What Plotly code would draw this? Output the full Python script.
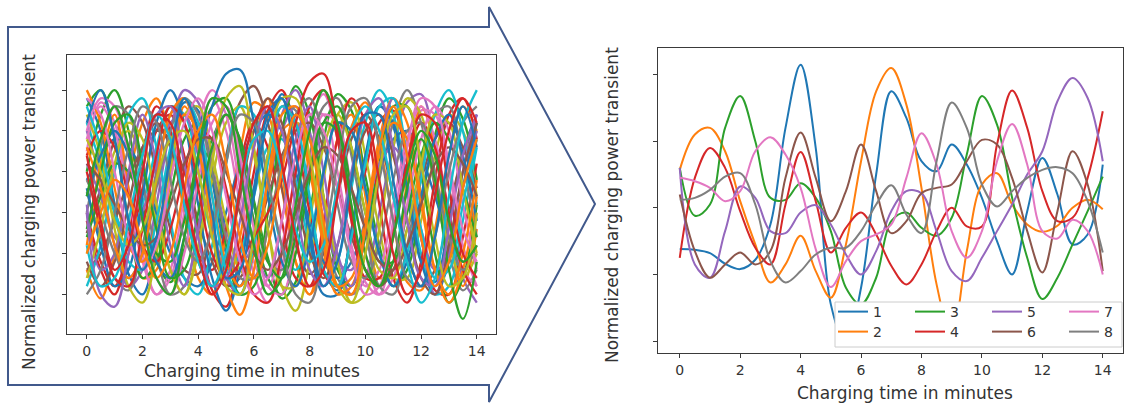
import plotly.graph_objects as go

# ---------------- data ----------------
T = [0, 0.5, 1, 1.5, 2, 2.5, 3, 3.5, 4, 4.5, 5, 5.5, 6, 6.5, 7, 7.5, 8, 8.5, 9, 9.5,
     10, 10.5, 11, 11.5, 12, 12.5, 13, 13.5, 14]

# right panel: 8 selected transients (normalized units)
S1 = [-0.62, -0.63, -0.68, -0.84, -0.92, -0.78, -0.25, 1.2, 2.15, 0.9, -1.45, -2.05, -1.2, 0.5, 1.75,
      1.35, 0.7, 0.55, 0.95, 0.65, 0.15, -0.5, -1.0, -0.05, 0.75, 0.2, -0.55, -0.4, 0.65]
S2 = [0.57, 1.1, 1.2, 0.85, 0.1, -0.55, -1.12, -0.85, -0.42, -0.95, -1.35, -0.55, 0.7, 1.75, 2.1,
      1.55, 0.3, -1.15, -1.95, -0.65, 0.35, 0.52, 0.05, -0.25, -0.36, -0.27, 0.0, 0.12, -0.02]
S3 = [0.6, -0.12, 0.05, 1.2, 1.68, 1.0, 0.15, 0.12, 0.37, 0.15, -0.35, -1.2, -1.45, -1.05, -0.2,
      -0.07, -0.3, -0.42, -0.15, 0.8, 1.68, 1.25, 0.15, -0.75, -1.37, -1.05, -0.55, -0.05, 0.47]
S4 = [-0.75, 0.45, 0.9, 0.6, -0.05, -0.6, -0.85, 0.05, 0.84, 0.1, -0.67, -0.3, -0.07, -0.4, -0.87,
      -1.15, -0.85, -0.35, 0.0, -0.28, -0.28, 0.95, 1.76, 1.2, 0.25, -0.2, -0.15, 0.45, 1.45]
S5 = [0.6, -0.85, -1.05, -0.35, 0.32, 0.15, -0.35, -0.38, -0.07, 0.04, -0.25, -0.7, -1.0, -0.65, -0.05,
      0.25, 0.22, -0.35, -0.95, -1.1, -0.75, -0.35, 0.05, 0.5, 0.85, 1.6, 1.95, 1.65, 0.7]
S6 = [0.2, -0.65, -1.05, -0.85, -0.67, -0.85, -0.65, 0.45, 1.13, 0.45, -0.2, 0.25, 0.95, 0.25, -0.38,
      -0.2, 0.22, 0.3, 0.35, 0.7, 1.02, 0.95, 0.45, -0.35, -0.97, -0.05, 0.85, 0.35, -0.95]
S7 = [0.45, 0.4, 0.3, 0.1, 0.25, 0.85, 1.06, 0.8, 0.3, -0.62, -1.19, -0.8, -0.5, -0.4, -0.25,
      0.45, 1.12, 0.65, -0.35, -0.75, -0.35, 0.7, 1.26, 0.65, -0.35, -0.46, -0.18, -0.35, -1.0]
S8 = [0.12, 0.15, 0.27, 0.47, 0.52, 0.05, -0.8, -1.12, -0.95, -0.7, -0.6, -0.6, -0.35, 0.05, 0.34,
      -0.1, -0.38, 0.7, 1.58, 1.2, 0.35, 0.02, 0.25, 0.45, 0.57, 0.61, 0.52, 0.1, -0.67]
SERIES_NAMES = ["1", "2", "3", "4", "5", "6", "7", "8"]

# left panel: all transients (normalized units x10)
L01 = [28, 20, 2, -15, -20, -8, 12, 27, 25, 8, -10, -18, -6, 14, 29, 22, 3, -14, -19, -5, 13, 26, 21, 4, -12, -17, -2, 15, 24]
L02 = [-14, -21, -10, 8, 22, 28, 18, 0, -16, -20, -5, 15, 27, 24, 6, -12, -20, -12, 6, 21, 27, 17, -2, -17, -19, -4, 14, 26, 20]
L03 = [10, 24, 30, 20, 2, -12, -17, -9, 6, 18, 24, 17, 3, -11, -21, -17, 0, 18, 29, 25, 9, -8, -18, -14, 2, 19, 28, 23, 8]
L04 = [0, -12, -18, -10, 6, 20, 24, 14, -4, -19, -23, -10, 10, 25, 30, 19, 0, -15, -18, -6, 10, 22, 25, 12, -6, -19, -20, -6, 12]
L05 = [20, 8, -8, -18, -14, 2, 20, 30, 27, 12, -4, -12, -8, 6, 20, 26, 18, 2, -12, -20, -16, 0, 16, 27, 29, 16, -2, -16, -22]
L06 = [-5, 6, 18, 26, 22, 10, -4, -14, -15, -2, 14, 27, 31, 22, 6, -8, -15, -10, 4, 18, 24, 18, 4, -10, -18, -14, 0, 14, 20]
L07 = [15, 27, 22, 6, -10, -20, -16, 0, 18, 28, 20, 2, -15, -22, -13, 5, 22, 29, 18, -2, -17, -20, -6, 12, 25, 24, 10, -8, -18]
L08 = [5, -6, -16, -19, -8, 10, 24, 28, 16, -2, -16, -18, -4, 14, 26, 25, 12, -4, -16, -20, -10, 8, 22, 30, 22, 6, -10, -19, -14]
L09 = [-10, 2, 15, 20, 12, -2, -14, -20, -10, 8, 22, 26, 14, -4, -18, -24, -12, 8, 24, 27, 14, -4, -16, -16, -2, 14, 24, 20, 4]
L10 = [22, 12, 0, -6, 2, 16, 26, 24, 10, -6, -14, -10, 4, 16, 18, 8, -8, -18, -12, 6, 22, 30, 24, 8, -10, -20, -18, -2, 16]
L11 = [8, 14, 18, 16, 10, 0, -10, -16, -18, -12, 0, 12, 20, 24, 20, 10, -2, -12, -16, -12, -2, 10, 18, 20, 14, 4, -6, -12, -10]
L12 = [-8, 12, 24, 6, -16, -14, 8, 26, 18, -4, -18, -6, 16, 28, 10, -12, -20, -4, 18, 24, 4, -16, -14, 8, 26, 16, -6, -18, -4]
L13 = [26, 30, 18, -2, -16, -12, 4, 18, 22, 10, -8, -20, -18, 0, 20, 31, 24, 4, -14, -18, -6, 12, 26, 26, 10, -10, -22, -16, 2]
L14 = [-2, -14, -20, -6, 14, 26, 20, 4, -10, -14, -4, 12, 22, 16, -2, -16, -18, -2, 18, 28, 22, 2, -16, -22, -12, 8, 24, 28, 18]
L15 = [12, 4, -6, -8, 0, 12, 22, 24, 14, -2, -16, -20, -10, 8, 24, 30, 20, 2, -12, -14, -2, 12, 16, 10, -4, -14, -10, 6, 20]
L16 = [-14, -10, -2, 8, 16, 20, 18, 10, -2, -12, -18, -16, -8, 4, 14, 20, 22, 16, 6, -6, -14, -18, -14, -4, 8, 18, 22, 16, 6]
L17 = [18, 26, 20, 4, -12, -20, -14, 4, 22, 30, 24, 6, -12, -18, -8, 10, 24, 24, 10, -8, -18, -14, 2, 18, 26, 18, 0, -14, -18]
L18 = [0, 16, 26, 24, 8, -10, -20, -18, -4, 14, 24, 18, 2, -12, -14, -2, 14, 26, 28, 14, -4, -18, -20, -8, 10, 24, 26, 12, -6]
L19 = [24, 14, -4, -18, -22, -10, 10, 24, 26, 14, -2, -14, -16, -4, 12, 22, 18, 4, -12, -22, -20, -4, 16, 28, 24, 8, -8, -16, -10]
L20 = [-18, -8, 10, 24, 28, 16, -2, -16, -20, -8, 12, 26, 24, 8, -8, -14, -6, 10, 22, 20, 6, -10, -18, -10, 8, 24, 30, 20, 2]
L21 = [6, -8, -18, -14, 4, 22, 30, 22, 2, -16, -24, -14, 6, 24, 28, 14, -6, -20, -20, -4, 14, 26, 22, 6, -12, -20, -12, 6, 22]
L22 = [30, 22, 6, -8, -12, -2, 14, 24, 20, 4, -12, -18, -10, 6, 20, 22, 10, -8, -20, -18, -2, 18, 28, 22, 4, -14, -22, -14, 4]
L23 = [-6, 4, 12, 10, 0, -10, -12, -2, 14, 26, 28, 16, -2, -16, -20, -10, 8, 22, 26, 16, 0, -12, -12, 0, 14, 22, 18, 6, -6]
L24 = [14, 20, 16, 4, -8, -12, -4, 10, 20, 18, 6, -10, -20, -22, -10, 10, 26, 30, 18, -2, -16, -16, -4, 12, 22, 16, 0, -14, -20]
L25 = [2, -14, -10, 10, 24, 12, -8, -18, -4, 16, 26, 12, -8, -16, -2, 18, 26, 10, -10, -18, -4, 16, 28, 14, -6, -20, -10, 10, 24]
L26 = [-12, -18, -12, 2, 16, 22, 16, 2, -12, -18, -12, 4, 20, 28, 22, 6, -10, -16, -8, 8, 20, 24, 14, -2, -16, -20, -8, 10, 22]
L27 = [20, 28, 26, 14, -2, -16, -20, -10, 8, 22, 26, 14, -4, -18, -20, -6, 12, 24, 22, 6, -10, -20, -16, 2, 18, 26, 20, 2, -14]
L28 = [8, 0, -10, -16, -10, 6, 20, 28, 24, 10, -6, -16, -16, -4, 12, 24, 28, 18, 2, -12, -16, -8, 8, 20, 22, 10, -6, -14, -8]
L29 = [-16, -4, 12, 22, 18, 2, -14, -20, -8, 12, 28, 31, 16, -4, -18, -18, -2, 16, 24, 16, 0, -14, -16, -4, 12, 24, 22, 6, -10]
L30 = [26, 16, 0, -12, -14, -2, 16, 28, 22, 4, -14, -20, -8, 12, 26, 22, 4, -14, -18, -6, 12, 26, 28, 14, -4, -16, -14, 2, 18]
L31 = [4, 14, 20, 14, 0, -12, -16, -6, 12, 26, 34, 35, 22, 4, -12, -18, -8, 10, 22, 20, 6, -10, -18, -12, 4, 18, 24, 14, -2]
L32 = [16, 6, -8, -16, -10, 8, 24, 28, 16, -2, -18, -25, -14, 8, 24, 26, 12, -6, -18, -16, -2, 14, 22, 18, 2, -14, -20, -10, 8]
L33 = [-4, 10, 22, 24, 12, -4, -16, -14, 0, 16, 24, 18, 2, -12, -16, -6, 10, 22, 20, 6, -10, -18, -12, 6, 18, 8, -14, -26, -12]
L34 = [10, -4, -16, -18, -4, 14, 26, 22, 6, -10, -16, -12, -6, 0, 8, 22, 32, 34, 20, 0, -14, -18, -6, 12, 24, 22, 6, -10, -16]
L35 = [0, -20, -23, -10, 10, 24, 26, 12, -6, -18, -16, -2, 16, 26, 20, 2, -14, -18, -8, 10, 24, 28, 16, -2, -16, -18, -4, 14, 24]
L36 = [12, 8, 2, -4, -8, -6, 2, 12, 18, 18, 10, 0, -10, -14, -10, 0, 10, 16, 14, 6, -4, -12, -14, -8, 2, 12, 16, 12, 4]
L37 = [28, 24, 10, -6, -14, -8, 8, 22, 28, 20, 4, -12, -20, -16, -2, 14, 24, 20, 6, -10, -20, -18, -2, 16, 28, 26, 12, -4, -12]
L38 = [-20, -14, 0, 16, 26, 22, 8, -6, -12, -4, 12, 24, 22, 8, -8, -20, -22, -8, 12, 26, 28, 16, -2, -16, -18, -6, 10, 22, 26]
L39 = [18, 10, -2, -8, -4, 8, 18, 20, 10, -6, -18, -20, -6, 14, 28, 28, 14, -4, -18, -22, -10, 10, 24, 26, 12, -6, -18, -16, 0]
L40 = [-8, -18, -16, -2, 14, 24, 18, 2, -12, -18, -10, 6, 18, 20, 10, -4, -12, -8, 6, 20, 26, 20, 4, -12, -22, -16, 4, 22, 30]
L41 = [22, 30, 18, -2, -14, -6, 14, 28, 20, 0, -16, -14, 4, 22, 28, 14, -4, -18, -12, 8, 24, 24, 8, -10, -18, -6, 14, 26, 16]
L42 = [-10, 0, 8, 4, -8, -16, -10, 6, 20, 24, 12, -6, -16, -8, 10, 24, 18, -2, -18, -20, -4, 16, 26, 14, -6, -18, -12, 6, 18]
L43 = [4, 18, 26, 16, -2, -16, -20, -6, 14, 28, 26, 10, -8, -20, -16, 2, 20, 30, 22, 2, -14, -18, -6, 10, 20, 14, -2, -12, -8]
L44 = [14, -2, -14, -8, 10, 24, 22, 6, -10, -20, -14, 6, 22, 26, 12, -6, -18, -14, 4, 20, 22, 8, -10, -20, -14, 4, 20, 28, 22]

X_TICKS = [0, 2, 4, 6, 8, 10, 12, 14]
X_TICK_LABELS = ["0", "2", "4", "6", "8", "10", "12", "14"]
LEFT_Y_TICKS = [-20, -10, 0, 10, 20, 30]
RIGHT_Y_TICKS = [-2, -1, 0, 1, 2]
X_TITLE = "Charging time in minutes"
Y_TITLE = "Normalized charging power transient"

# ---------------- styling ----------------
W, H = 1126, 406
TAB10 = ["#1f77b4", "#ff7f0e", "#2ca02c", "#d62728", "#9467bd",
         "#8c564b", "#e377c2", "#7f7f7f", "#bcbd22", "#17becf"]
FONT = "DejaVu Sans"
AX_COLOR = "#3a3a3a"
TXT_COLOR = "#333333"


def px(x):
    return x / W


def py(y):
    return 1 - y / H


fig = go.Figure()

left_curves = [L01, L02, L03, L04, L05, L06, L07, L08, L09, L10, L11, L12, L13, L14, L15,
               L16, L17, L18, L19, L20, L21, L22, L23, L24, L25, L26, L27, L28, L29, L30,
               L31, L32, L33, L34, L35, L36, L37, L38, L39, L40, L41, L42, L43, L44]
for i, c in enumerate(left_curves):
    fig.add_trace(go.Scatter(x=T, y=c, mode="lines", xaxis="x", yaxis="y",
                             line=dict(color=TAB10[i % 10], width=2.3, shape="spline", smoothing=1),
                             showlegend=False, hoverinfo="skip"))

right_curves = [S1, S2, S3, S4, S5, S6, S7, S8]
for i, (name, c) in enumerate(zip(SERIES_NAMES, right_curves)):
    fig.add_trace(go.Scatter(x=T, y=c, mode="lines", xaxis="x2", yaxis="y2", name=name,
                             line=dict(color=TAB10[i], width=2, shape="spline", smoothing=1),
                             legend="legend" if i % 2 == 0 else "legend2",
                             hoverinfo="skip"))

axis_common = dict(showline=True, linecolor=AX_COLOR, linewidth=1.3, mirror=True,
                   showgrid=False, zeroline=False, ticks="outside", ticklen=4,
                   tickcolor=AX_COLOR, tickwidth=1, automargin=False)

fig.update_layout(
    width=W, height=H, autosize=False,
    margin=dict(l=0, r=0, t=0, b=0, pad=0, autoexpand=False),
    paper_bgcolor="white", plot_bgcolor="white",
    font=dict(family=FONT, color=TXT_COLOR, size=14),
    xaxis=dict(domain=[px(67), px(496)], anchor="y", range=[-0.71, 14.69],
               tickvals=X_TICKS, ticktext=X_TICK_LABELS, tickfont=dict(size=14),
               **axis_common),
    yaxis=dict(domain=[py(334), py(55)], anchor="x", range=[-29.7, 38.6],
               tickvals=LEFT_Y_TICKS, showticklabels=False, **axis_common),
    xaxis2=dict(domain=[px(658), px(1123)], anchor="y2", range=[-0.72, 14.67],
                tickvals=X_TICKS, ticktext=X_TICK_LABELS, tickfont=dict(size=14),
                **axis_common),
    yaxis2=dict(domain=[py(353), py(48)], anchor="x2", range=[-2.18, 2.40],
                tickvals=RIGHT_Y_TICKS, showticklabels=False, **axis_common),
    legend=dict(orientation="h", x=px(833), y=py(312), xanchor="left", yanchor="middle",
                bgcolor="rgba(0,0,0,0)", borderwidth=0, font=dict(size=14),
                entrywidth=32, entrywidthmode="pixels", itemwidth=30,
                tracegroupgap=0),
    legend2=dict(orientation="h", x=px(833), y=py(332), xanchor="left", yanchor="middle",
                 bgcolor="rgba(0,0,0,0)", borderwidth=0, font=dict(size=14),
                 entrywidth=32, entrywidthmode="pixels", itemwidth=30,
                 tracegroupgap=0),
)

# legend frame (white box with light border) drawn over the curves
fig.add_shape(type="rect", xref="paper", yref="paper",
              x0=px(835), x1=px(1122), y0=py(347), y1=py(302),
              fillcolor="white", line=dict(color="#cccccc", width=1), layer="above")

# big outlined arrow around the left panel
pts = [(8, 27), (489, 27), (489, 7), (595, 204), (489, 402), (489, 385), (8, 385)]
path = "M " + " L ".join(f"{px(x):.5f},{py(y):.5f}" for x, y in pts) + " Z"
fig.add_shape(type="path", xref="paper", yref="paper", path=path,
              line=dict(color="#41598c", width=2), fillcolor="rgba(0,0,0,0)", layer="above")

# axis titles
title_font = dict(family=FONT, size=17, color=TXT_COLOR)
fig.add_annotation(text=X_TITLE, xref="paper", yref="paper", x=px(252), y=py(371),
                   xanchor="center", yanchor="middle", showarrow=False, font=title_font)
fig.add_annotation(text=Y_TITLE, xref="paper", yref="paper", x=px(29), y=py(212),
                   xanchor="center", yanchor="middle", showarrow=False, textangle=-90,
                   font=title_font)
fig.add_annotation(text=X_TITLE, xref="paper", yref="paper", x=px(905), y=py(393),
                   xanchor="center", yanchor="middle", showarrow=False, font=title_font)
fig.add_annotation(text=Y_TITLE, xref="paper", yref="paper", x=px(612), y=py(205),
                   xanchor="center", yanchor="middle", showarrow=False, textangle=-90,
                   font=title_font)

fig.write_html("out.html", config={"responsive": False},
               post_script="document.body.style.margin='0px';document.body.style.overflow='hidden';")
